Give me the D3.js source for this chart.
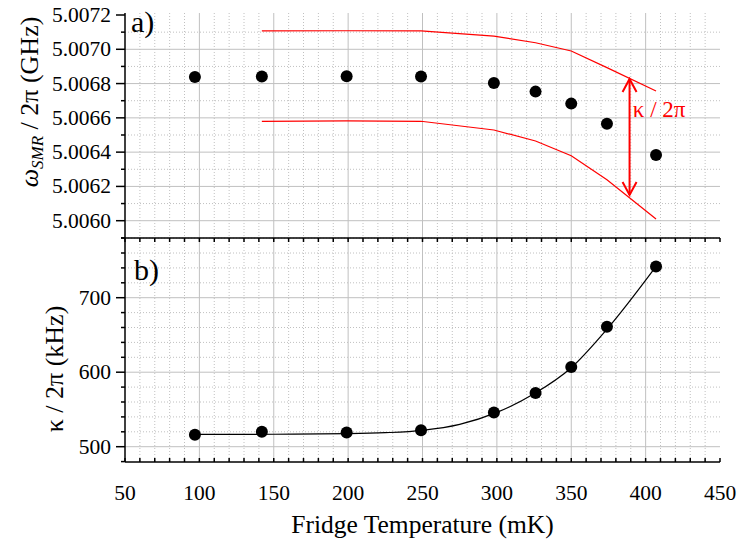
<!DOCTYPE html>
<html>
<head>
<meta charset="utf-8">
<script src="https://cdn.jsdelivr.net/npm/d3@7"></script>
<style>
body { margin: 0; background: #fff; }
</style>
</head>
<body>
<div id="chart"></div>
<script>
// fridge temperature (mK) of each measurement
var temps = [97, 142, 199, 249, 298, 326, 350, 374, 407];
// resonance frequency (GHz), panel a
var freqGHz = [5.006838, 5.006841, 5.006842, 5.006841, 5.006803, 5.006753, 5.006683, 5.006566, 5.006383];
// linewidth kappa/2pi (kHz), panel b
var kappa = [516, 520, 519, 522, 546, 572, 607, 661, 742];

// red band edges (f +/- kappa/2), panel a
var bandT = [142, 199, 249, 298, 326, 350, 374, 407];
var bandUpper = [5.007107, 5.007108, 5.007107, 5.007077, 5.007038, 5.006990, 5.006893, 5.006757];
var bandLower = [5.006580, 5.006582, 5.006580, 5.006529, 5.006465, 5.006379, 5.006239, 5.006010];

// fit curve
var fitT = [97, 150, 200, 225, 250, 275, 300, 325, 350, 375, 407];
var fitK = [516.5, 516.7, 517.5, 518.8, 522, 530, 546, 571, 606, 660, 742];

var xTicks = [50, 100, 150, 200, 250, 300, 350, 400, 450];
var yTopTicks = [5.0060, 5.0062, 5.0064, 5.0066, 5.0068, 5.0070, 5.0072];
var yBotTicks = [500, 600, 700];

var width = 737, height = 546;
var left = 125, right = 720;
var topA = 13, mid = 238, bottomB = 462;
var serif = "'Liberation Serif', 'Times New Roman', serif";

var svg = d3.select("#chart").append("svg")
    .attr("width", width)
    .attr("height", height)
    .attr("font-family", serif);

var x = d3.scaleLinear().domain([50, 450]).range([left, right]);
var yA = d3.scaleLinear().domain([5.0060, 5.0072]).range([220.7, 15]);
var yB = d3.scaleLinear().domain([500, 700]).range([446.7, 297.7]);

var gridColor = "#c0c0c0";

// minor values
var xMinor = d3.range(60, 450, 10).filter(function(d) { return d % 50 != 0; });
var yAMinor = d3.range(0, 7).map(function(i) { return +(5.0059 + i * 0.0002).toFixed(4); });
var yBMinor = d3.range(480, 781, 20).filter(function(d) { return d % 100 != 0; });

function grid(g, y0, y1, yScale, yMaj, yMin) {
    // vertical
    g.selectAll("line.vmin").data(xMinor).enter().append("line")
        .attr("x1", x).attr("x2", x).attr("y1", y0).attr("y2", y1)
        .attr("stroke", gridColor).attr("stroke-dasharray", "1,2");
    g.selectAll("line.vmaj").data(xTicks.slice(1, -1)).enter().append("line")
        .attr("x1", x).attr("x2", x).attr("y1", y0).attr("y2", y1)
        .attr("stroke", gridColor);
    // horizontal
    g.selectAll("line.hmin").data(yMin).enter().append("line")
        .attr("x1", left).attr("x2", right)
        .attr("y1", yScale).attr("y2", yScale)
        .attr("stroke", gridColor).attr("stroke-dasharray", "1,2");
    g.selectAll("line.hmaj").data(yMaj).enter().append("line")
        .attr("x1", left).attr("x2", right)
        .attr("y1", yScale).attr("y2", yScale)
        .attr("stroke", gridColor);
}

grid(svg.append("g"), topA, mid, yA, yTopTicks.slice(0, -1), yAMinor.filter(function(d) { return d > 5.0059; }));
grid(svg.append("g"), mid, bottomB, yB, yBotTicks, yBMinor.filter(function(d) { return d > 485; }));

// ---- axes ----
var axisG = svg.append("g").attr("stroke", "#000").attr("stroke-width", 1.5);

// left y axis line for both panels
axisG.append("line").attr("x1", left).attr("x2", left).attr("y1", topA).attr("y2", bottomB);
// shared x line and bottom x line
axisG.append("line").attr("x1", left).attr("x2", right).attr("y1", mid).attr("y2", mid);
axisG.append("line").attr("x1", left).attr("x2", right).attr("y1", bottomB).attr("y2", bottomB);

var allX = xTicks.concat(xMinor);
axisG.selectAll("line.xt1").data(allX).enter().append("line")
    .attr("x1", x).attr("x2", x).attr("y1", mid).attr("y2", mid + 4);
axisG.selectAll("line.xt2").data(allX).enter().append("line")
    .attr("x1", x).attr("x2", x).attr("y1", bottomB).attr("y2", bottomB - 4);

// y ticks
axisG.selectAll("line.ya").data(yTopTicks).enter().append("line")
    .attr("x1", left - 9).attr("x2", left).attr("y1", yA).attr("y2", yA);
axisG.selectAll("line.yam").data(yAMinor).enter().append("line")
    .attr("x1", left - 4).attr("x2", left).attr("y1", yA).attr("y2", yA);
axisG.selectAll("line.yb").data(yBotTicks).enter().append("line")
    .attr("x1", left - 9).attr("x2", left).attr("y1", yB).attr("y2", yB);
axisG.selectAll("line.ybm").data(yBMinor).enter().append("line")
    .attr("x1", left - 4).attr("x2", left).attr("y1", yB).attr("y2", yB);

// tick labels
svg.selectAll("text.xl").data(xTicks).enter().append("text")
    .attr("x", x).attr("y", 500)
    .attr("text-anchor", "middle")
    .style("font-size", "21.5px")
    .text(function(d) { return d; });

svg.selectAll("text.yal").data(yTopTicks).enter().append("text")
    .attr("x", left - 14).attr("y", function(d) { return yA(d) + 7; })
    .attr("text-anchor", "end")
    .style("font-size", "21.5px")
    .text(function(d) { return d.toFixed(4); });

svg.selectAll("text.ybl").data(yBotTicks).enter().append("text")
    .attr("x", left - 14).attr("y", function(d) { return yB(d) + 7; })
    .attr("text-anchor", "end")
    .style("font-size", "21.5px")
    .text(function(d) { return d; });

// axis titles
svg.append("text")
    .attr("x", (left + right) / 2).attr("y", 533)
    .attr("text-anchor", "middle")
    .style("font-size", "25.5px")
    .text("Fridge Temperature (mK)");

var ta = svg.append("text")
    .attr("transform", "translate(38,102) rotate(-90)")
    .attr("text-anchor", "middle")
    .style("font-size", "26px");
ta.append("tspan").style("font-style", "italic").text("ω");
ta.append("tspan").style("font-style", "italic").style("font-size", "17px")
    .attr("dy", 5).text("SMR");
ta.append("tspan").attr("dy", -5).text(" / 2π (GHz)");

svg.append("text")
    .attr("transform", "translate(63,369) rotate(-90)")
    .attr("text-anchor", "middle")
    .style("font-size", "26px")
    .text("κ / 2π (kHz)");

// panel labels
svg.append("text").attr("x", 131).attr("y", 32).style("font-size", "30px").text("a)");
svg.append("text").attr("x", 134).attr("y", 280).style("font-size", "30px").text("b)");

// ---- panel a ----
var bandLine = d3.line()
    .x(function(d, i) { return x(bandT[i]); })
    .y(function(d) { return yA(d); });

svg.append("path").datum(bandUpper)
    .attr("d", bandLine).attr("fill", "none").attr("stroke", "#ff0000").attr("stroke-width", 1.2);
svg.append("path").datum(bandLower)
    .attr("d", bandLine).attr("fill", "none").attr("stroke", "#ff0000").attr("stroke-width", 1.2);

svg.selectAll("circle.fa").data(freqGHz).enter().append("circle")
    .attr("cx", function(d, i) { return x(temps[i]); })
    .attr("cy", function(d) { return yA(d); })
    .attr("r", 6)
    .attr("fill", "#000");

// kappa arrow
var arrowT = 389.2, arrowTop = 5.006827, arrowBot = 5.006150;
var ar = svg.append("g").attr("stroke", "#ff0000").attr("stroke-width", 2).attr("fill", "none");
var ax = x(arrowT), a1 = yA(arrowTop), a2 = yA(arrowBot);
ar.append("line").attr("x1", ax).attr("x2", ax).attr("y1", a1).attr("y2", a2);
ar.append("path").attr("d", "M" + (ax - 7) + "," + (a1 + 13) + "L" + ax + "," + a1 + "L" + (ax + 7) + "," + (a1 + 13));
ar.append("path").attr("d", "M" + (ax - 7) + "," + (a2 - 13) + "L" + ax + "," + a2 + "L" + (ax + 7) + "," + (a2 - 13));

svg.append("text")
    .attr("x", x(391.4)).attr("y", yA(5.006607))
    .attr("fill", "#ff0000")
    .style("font-size", "23px")
    .text("κ / 2π");

// ---- panel b ----
var fitLine = d3.line()
    .x(function(d, i) { return x(fitT[i]); })
    .y(function(d) { return yB(d); })
    .curve(d3.curveMonotoneX);

svg.append("path").datum(fitK)
    .attr("d", fitLine).attr("fill", "none").attr("stroke", "#000").attr("stroke-width", 1.2);

svg.selectAll("circle.kb").data(kappa).enter().append("circle")
    .attr("cx", function(d, i) { return x(temps[i]); })
    .attr("cy", function(d) { return yB(d); })
    .attr("r", 6)
    .attr("fill", "#000");
</script>
</body>
</html>
